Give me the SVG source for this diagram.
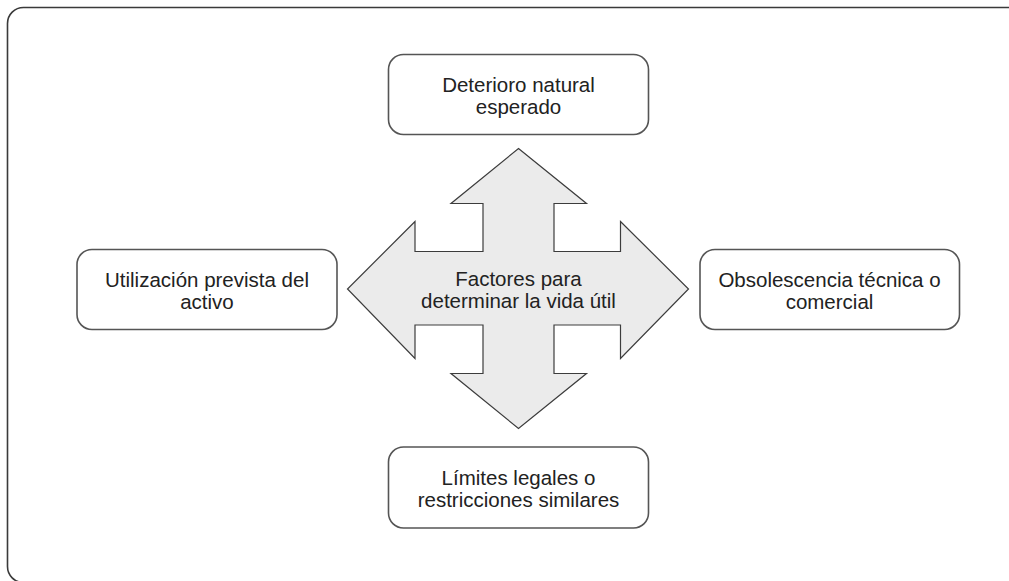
<svg xmlns="http://www.w3.org/2000/svg" width="1009" height="581" viewBox="0 0 1009 581">
<style>
.frame{fill:#ffffff;stroke:#3a3a3a;stroke-width:1.6}
.box{fill:#ffffff;stroke:#555555;stroke-width:1.6}
.cross{fill:#ebebeb;stroke:#3c3c3c;stroke-width:1.2;stroke-linejoin:miter}
.t{font-family:"Liberation Sans",Arial,sans-serif;font-size:20.5px;fill:#222222;text-anchor:middle}
</style>
<rect width="1009" height="581" fill="#ffffff"/>
<rect class="frame" x="7.5" y="7.5" width="1030" height="575" rx="16" ry="16"/>
<g id="connectors">
<g id="center">
<path class="cross" d="M518.5,148.5 L586.5,203.5 L554,203.5 L554,251.5 L620.5,251.5 L620.5,221.5 L688.5,289 L620.5,358.5 L620.5,325 L554,325 L554,373.5 L586.5,373.5 L518.5,428.5 L451,373.5 L483,373.5 L483,325 L415,325 L415,358.5 L347.5,289 L415,221.5 L415,251.5 L483,251.5 L483,203.5 L451,203.5 Z"/>
<text class="t"><tspan x="518.5" y="286">Factores para</tspan><tspan x="518.5" y="308">determinar la vida útil</tspan></text>
</g>
</g>
<g id="top">
<rect class="box" x="388.5" y="54.5" width="260" height="80" rx="15" ry="15"/>
<text class="t"><tspan x="518.5" y="92">Deterioro natural</tspan><tspan x="518.5" y="114">esperado</tspan></text>
</g>
<g id="left">
<rect class="box" x="77" y="249.5" width="260" height="80" rx="15" ry="15"/>
<text class="t"><tspan x="207" y="287">Utilización prevista del</tspan><tspan x="207" y="309">activo</tspan></text>
</g>
<g id="right">
<rect class="box" x="700" y="249.5" width="259.5" height="80" rx="15" ry="15"/>
<text class="t"><tspan x="829.5" y="287">Obsolescencia técnica o</tspan><tspan x="829.5" y="309">comercial</tspan></text>
</g>
<g id="bottom">
<rect class="box" x="388.5" y="447" width="260" height="81" rx="15" ry="15"/>
<text class="t"><tspan x="518.5" y="485">Límites legales o</tspan><tspan x="518.5" y="507">restricciones similares</tspan></text>
</g>
</svg>
